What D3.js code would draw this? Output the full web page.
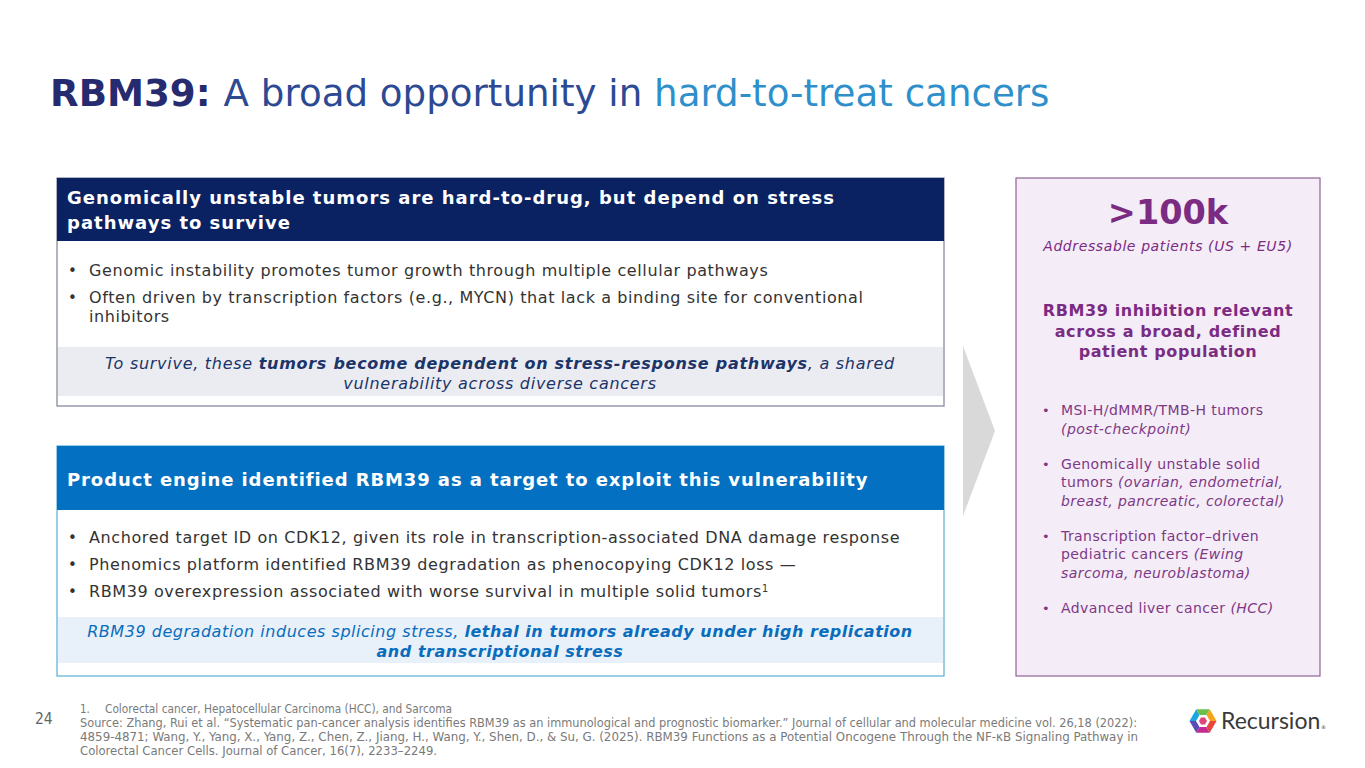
<!DOCTYPE html>
<html>
<head>
<meta charset="utf-8">
<style>
  body { margin:0; background:#fff; }
  svg { display:block; font-family:"DejaVu Sans", Verdana, sans-serif; }
</style>
</head>
<body>
<script src="https://cdn.jsdelivr.net/npm/d3@7"></script>
<script>
// ---- content ----
var titleRuns = [["RBM39: ", "b", "#262a6e"], ["A broad opportunity in ", "", "#2c4a93"], ["hard-to-treat cancers", "", "#2f8fcb"]];

var box1Header = ["Genomically unstable tumors are hard-to-drug, but depend on stress", "pathways to survive"];
var box1Bullets = [
  [[["Genomic instability promotes tumor growth through multiple cellular pathways", ""]]],
  [[["Often driven by transcription factors (e.g., MYCN) that lack a binding site for conventional", ""]],
   [["inhibitors", ""]]]
];
var box1Note = [
  [["To survive, these ", "i"], ["tumors become dependent on stress-response pathways", "bi"], [", a shared", "i"]],
  [["vulnerability across diverse cancers", "i"]]
];

var box2Header = ["Product engine identified RBM39 as a target to exploit this vulnerability"];
var box2Bullets = [
  [[["Anchored target ID on CDK12, given its role in transcription-associated DNA damage response", ""]]],
  [[["Phenomics platform identified RBM39 degradation as phenocopying CDK12 loss \u2014", ""]]],
  [[["RBM39 overexpression associated with worse survival in multiple solid tumors", ""], ["1", "sup"]]]
];
var box2Note = [
  [["RBM39 degradation induces splicing stress, ", "i"], ["lethal in tumors already under high replication", "bi"]],
  [["and transcriptional stress", "bi"]]
];

var statValue = ">100k";
var statLabel = "Addressable patients (US + EU5)";
var panelHeading = ["RBM39 inhibition relevant", "across a broad, defined", "patient population"];
var panelBullets = [
  [[["MSI-H/dMMR/TMB-H tumors", ""]], [["(post-checkpoint)", "i"]]],
  [[["Genomically unstable solid", ""]], [["tumors ", ""], ["(ovarian, endometrial,", "i"]], [["breast, pancreatic, colorectal)", "i"]]],
  [[["Transcription factor\u2013driven", ""]], [["pediatric cancers ", ""], ["(Ewing", "i"]], [["sarcoma, neuroblastoma)", "i"]]],
  [[["Advanced liver cancer ", ""], ["(HCC)", "i"]]]
];

var pageNumber = "24";
var footnote = "Colorectal cancer, Hepatocellular Carcinoma (HCC), and Sarcoma";
var sourceLines = [
  "Source: Zhang, Rui et al. \u201cSystematic pan-cancer analysis identifies RBM39 as an immunological and prognostic biomarker.\u201d Journal of cellular and molecular medicine vol. 26,18 (2022):",
  "4859-4871; Wang, Y., Yang, X., Yang, Z., Chen, Z., Jiang, H., Wang, Y., Shen, D., & Su, G. (2025). RBM39 Functions as a Potential Oncogene Through the NF-\u03baB Signaling Pathway in",
  "Colorectal Cancer Cells. Journal of Cancer, 16(7), 2233\u20132249."
];
var sourceWidths = [1057, 1058, 357];

// ---- drawing ----
var W = 1365, H = 768;
var svg = d3.select("body").append("svg").attr("width", W).attr("height", H);
svg.append("rect").attr("width", W).attr("height", H).attr("fill", "#fff");

function runs(textSel, line, color) {
  line.forEach(function(r) {
    var t = textSel.append("tspan").text(r[0]);
    if (r[1].indexOf("b") >= 0) t.attr("font-weight", "bold");
    if (r[1].indexOf("i") >= 0) t.attr("font-style", "italic");
    if (r[1] === "sup") t.attr("font-size", "0.6em").attr("dy", -5).attr("letter-spacing", 0);
    if (r[2]) t.attr("fill", r[2]);
  });
}

// title
var title = svg.append("text").attr("x", 50).attr("y", 106).attr("font-size", 37.2);
runs(title, titleRuns);

function box(y0, y1, hdrH, hdrColor, border, hdrLines, hdrBase, bullets, bulletBase, bulletStep, wrapStep, bandY, bandH, bandColor, note, noteBase, noteColor, hdrLs, noteLs) {
  var g = svg.append("g");
  var x0 = 57, x1 = 944;
  g.append("rect").attr("x", x0).attr("y", y0).attr("width", x1 - x0).attr("height", y1 - y0)
    .attr("fill", "#fff").attr("stroke", border).attr("stroke-width", 1.2);
  g.append("rect").attr("x", x0).attr("y", y0).attr("width", x1 - x0).attr("height", hdrH).attr("fill", hdrColor);
  hdrLines.forEach(function(l, i) {
    g.append("text").attr("x", 67).attr("y", hdrBase + i * 25).attr("fill", "#fff")
      .attr("font-size", 18).attr("letter-spacing", hdrLs).attr("font-weight", "bold").text(l);
  });
  var y = bulletBase;
  bullets.forEach(function(b) {
    g.append("text").attr("x", 68).attr("y", y).attr("font-size", 15).attr("fill", "#333").text("\u2022");
    b.forEach(function(line, j) {
      var t = g.append("text").attr("x", 89).attr("y", y + j * wrapStep).attr("font-size", 16)
        .attr("letter-spacing", 0.6).attr("fill", "#333");
      runs(t, line);
    });
    y += (b.length - 1) * wrapStep + bulletStep;
  });
  g.append("rect").attr("x", x0 + 1).attr("y", bandY).attr("width", x1 - x0 - 2).attr("height", bandH).attr("fill", bandColor);
  note.forEach(function(line, i) {
    var t = g.append("text").attr("x", 500).attr("y", noteBase + i * 20).attr("text-anchor", "middle")
      .attr("font-size", 16).attr("letter-spacing", noteLs).attr("fill", noteColor);
    runs(t, line);
  });
}

box(178, 406, 63, "#0b2262", "#7d8396", box1Header, 204, box1Bullets, 276, 27, 19, 347, 49, "#eaecf2", box1Note, 369, "#1d3468", 1.0, 0.72);
box(446, 676, 64, "#0470c1", "#58acd6", box2Header, 486, box2Bullets, 543, 27, 19, 617, 46, "#e8f1f9", box2Note, 637, "#0a6cbd", 0.9, 0.53);

// arrow
svg.append("path").attr("d", d3.line()([[963, 346], [995, 431], [963, 516]]) + "Z").attr("fill", "#d9d9d9");

// right panel
var px0 = 1016, px1 = 1320, pc = (px0 + px1) / 2;
svg.append("rect").attr("x", px0).attr("y", 178).attr("width", px1 - px0).attr("height", 498)
  .attr("fill", "#f4ecf6").attr("stroke", "#8f6394").attr("stroke-width", 1.2);
svg.append("text").attr("x", pc).attr("y", 224).attr("text-anchor", "middle").attr("font-size", 33.5)
  .attr("font-weight", "bold").attr("fill", "#7b2b82").text(statValue);
svg.append("text").attr("x", pc).attr("y", 251).attr("text-anchor", "middle").attr("font-size", 14)
  .attr("letter-spacing", 0.6).attr("font-style", "italic").attr("fill", "#7b2b82").text(statLabel);
panelHeading.forEach(function(l, i) {
  svg.append("text").attr("x", pc).attr("y", 316 + i * 20.5).attr("text-anchor", "middle").attr("font-size", 16)
    .attr("letter-spacing", 0.6).attr("font-weight", "bold").attr("fill", "#7b2b82").text(l);
});
var py = 415;
panelBullets.forEach(function(b) {
  svg.append("text").attr("x", 1042).attr("y", py).attr("font-size", 13).attr("fill", "#7e3886").text("\u2022");
  b.forEach(function(line, j) {
    var t = svg.append("text").attr("x", 1061).attr("y", py + j * 18.6).attr("font-size", 14)
      .attr("letter-spacing", 0.42).attr("fill", "#7e3886");
    runs(t, line);
  });
  py += (b.length - 1) * 18.6 + 35;
});

// footer
var foot = svg.append("g").attr("fill", "#7a7a7a").attr("font-family", "'DejaVu Sans Condensed', 'DejaVu Sans', sans-serif");
foot.append("text").attr("x", 35).attr("y", 724).attr("font-size", 15.5).attr("fill", "#666").text(pageNumber);
foot.append("text").attr("x", 80).attr("y", 713).attr("font-size", 11.5).text("1.");
foot.append("text").attr("x", 105).attr("y", 713).attr("font-size", 11.5)
  .attr("textLength", 347).attr("lengthAdjust", "spacingAndGlyphs").text(footnote);
sourceLines.forEach(function(l, i) {
  foot.append("text").attr("x", 80).attr("y", 727 + i * 14.2).attr("font-size", 11.5)
    .attr("textLength", sourceWidths[i]).attr("lengthAdjust", "spacingAndGlyphs").text(l);
});

// logo
var hexColors = ["#f7a21b", "#e8453c", "#c42a8f", "#5b4bb7", "#1aa7e0", "#6cc04a"];
var lg = svg.append("g").attr("transform", "translate(1203,721)");
var R = 13.5;
var ang = d3.range(7).map(function(k) { return Math.PI / 6 + k * Math.PI / 3 - Math.PI / 2; });
hexColors.forEach(function(c, k) {
  lg.append("path").attr("d", d3.line()([[0, 0], [R * Math.cos(ang[k]), R * Math.sin(ang[k])], [R * Math.cos(ang[k + 1]), R * Math.sin(ang[k + 1])]]) + "Z").attr("fill", c);
});
lg.append("path").attr("d", d3.line()(ang.slice(0, 6).map(function(a) { return [7 * Math.cos(a), 7 * Math.sin(a)]; })) + "Z").attr("fill", "#fff");
lg.append("path").attr("d", d3.line()(ang.slice(0, 6).map(function(a) { return [4 * Math.cos(a), 4 * Math.sin(a)]; })) + "Z").attr("fill", "#e0457a");
svg.append("text").attr("x", 1221).attr("y", 729).attr("font-family", "Lato, 'Open Sans', sans-serif")
  .attr("font-size", 23).attr("fill", "#3a3a3a").text("Recursion");
svg.append("text").attr("x", 1321).attr("y", 729).attr("font-size", 5).attr("fill", "#3a3a3a").text("\u00ae");
</script>
</body>
</html>
